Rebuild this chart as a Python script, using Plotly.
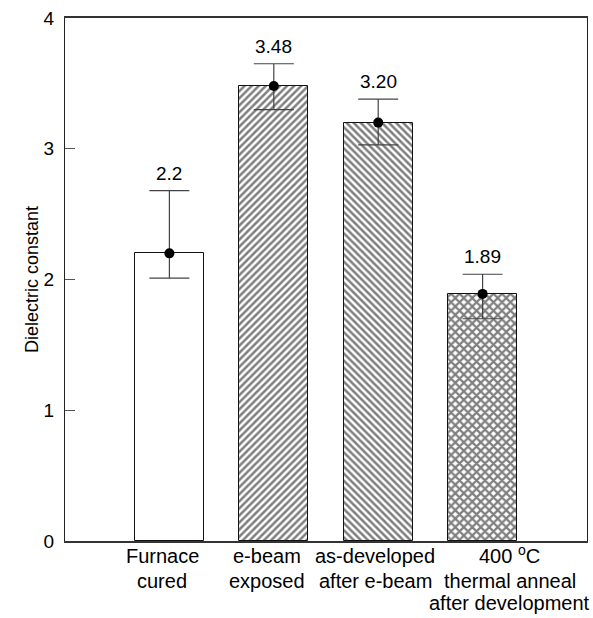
import plotly.graph_objects as go

# Dielectric constant of the film after each processing step
categories = ["Furnace<br>cured", "e-beam<br>exposed", "as-developed<br>after e-beam",
              "400 <sup>o</sup>C<br>thermal anneal<br>after development"]
values = [2.2, 3.48, 3.20, 1.89]
value_labels = ["2.2", "3.48", "3.20", "1.89"]
err_plus = [0.48, 0.17, 0.18, 0.15]
err_minus = [0.19, 0.18, 0.17, 0.19]
patterns = ["", "/", "\\", "x"]
label_shift = [-7, -7, -3, 27]

xpos = list(range(len(categories)))
font = "Liberation Sans, Arial, sans-serif"

fig = go.Figure()

fig.add_trace(go.Bar(
    x=xpos, y=values, width=0.66,
    marker=dict(
        color="white",
        line=dict(color="#111", width=1),
        pattern=dict(shape=patterns, fgcolor="black", bgcolor="white",
                     size=[5, 5, 5, 6], solidity=[0.5, 0.5, 0.5, 0.6], fillmode="overlay"),
    ),
    showlegend=False, hoverinfo="skip",
))

fig.add_trace(go.Scatter(
    x=xpos, y=values, mode="markers",
    marker=dict(color="black", size=10),
    error_y=dict(type="data", symmetric=False, array=err_plus, arrayminus=err_minus,
                 color="#444", thickness=1.2, width=20),
    showlegend=False, hoverinfo="skip",
))

annotations = []
for x, v, ep, txt in zip(xpos, values, err_plus, value_labels):
    annotations.append(dict(x=x, y=v + ep, xref="x", yref="y", text=txt,
                            showarrow=False, yanchor="bottom", yshift=5,
                            font=dict(family=font, size=19, color="black")))

# category names below the axis, one annotation per line for tight line spacing
for x, txt, dx in zip(xpos, categories, label_shift):
    for i, line in enumerate(txt.split("<br>")):
        if i == 0:
            anchor, shift = "bottom", -28
        else:
            anchor, shift = "middle", -(40 + 22 * (i - 1))
        annotations.append(dict(x=x, y=0, xref="x", yref="paper", text=line,
                                showarrow=False, yanchor=anchor,
                                yshift=shift, xshift=dx,
                                font=dict(family=font, size=20, color="black")))

fig.update_layout(
    width=593, height=618,
    margin=dict(l=65, r=6, t=18, b=77),
    paper_bgcolor="white", plot_bgcolor="white",
    font=dict(family=font, color="black"),
    annotations=annotations,
    bargap=0,
)

fig.update_xaxes(
    range=[-1.0, 4.0], showticklabels=False, ticks="", showgrid=False,
    zeroline=False, showline=True, linecolor="#333", linewidth=1.5, mirror=True,
)
fig.update_yaxes(
    range=[0, 4], tickvals=[0, 1, 2, 3, 4], ticks="inside", ticklen=10,
    tickcolor="#555", showgrid=False, zeroline=False,
    showline=True, linecolor="#222", linewidth=1, mirror=True,
    tickfont=dict(family=font, size=19, color="black"),
    ticklabelstandoff=6,
    title=dict(text="Dielectric constant", font=dict(family=font, size=18, color="black"),
               standoff=0),
)

fig.write_html("out.html")
